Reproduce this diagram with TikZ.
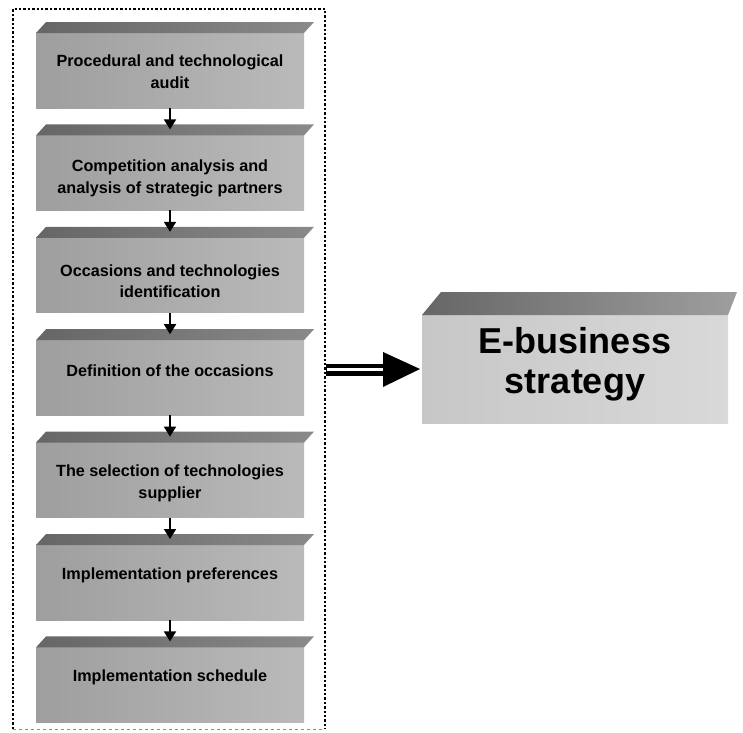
\documentclass[tikz,border=0pt]{standalone}
\usepackage{fontspec}
\setmainfont{Liberation Sans}
\usetikzlibrary{arrows.meta,calc}

\begin{document}
\begin{tikzpicture}[x=1pt,y=-1pt,
  stepface/.style={inner sep=0pt, outer sep=0pt, minimum width=268pt, minimum height=75pt,
    left color=black!38, right color=black!27, draw=none},
  bigface/.style={inner sep=0pt, outer sep=0pt, minimum width=306pt, minimum height=108pt,
    left color=black!22, right color=black!15, draw=none},
  topface/.style={left color=black!60, right color=black!46, draw=none},
  steptext/.style={font=\fontsize{16.2}{21.5}\selectfont\bfseries, align=center, inner sep=0pt},
  bigtext/.style={font=\fontsize{36}{40}\selectfont\bfseries, align=center, inner sep=0pt},
  flow/.style={line width=1.8pt, -{Triangle[width=12pt,length=10pt]}},
  framedot/.style={line width=2.6pt, dash pattern=on 2.4pt off 2pt}
]
\useasboundingbox (0,0) rectangle (743,732);

% front faces of the seven steps (pitch 102.4pt)
\node[stepface] (b1) at (170, 70.5) {};
\node[stepface] (b2) at (170,172.9) {};
\node[stepface] (b3) at (170,275.3) {};
\node[stepface] (b4) at (170,377.7) {};
\node[stepface] (b5) at (170,480.1) {};
\node[stepface] (b6) at (170,582.5) {};
\node[stepface] (b7) at (170,684.9) {};

% bevelled top faces
\foreach \b in {b1,b2,b3,b4,b5,b6,b7}{
  \shade[topface] (\b.north west) -- ++(10,-11) -- ($(\b.north east)+(10,-11)$) -- (\b.north east) -- cycle;
}

% step labels
\node[steptext] (t1) at (170,71.5)  {Procedural and technological\\audit};
\node[steptext] (t2) at (170,178.5) {Competition analysis and\\analysis of strategic partners};
\node[steptext] (t3) at (170,281)   {Occasions and technologies\\identification};
\node[steptext] (t4) at (170,370.5) {Definition of the occasions};
\node[steptext] (t5) at (170,483.5) {The selection of technologies\\supplier};
\node[steptext] (t6) at (170,575.5) {Implementation preferences};
\node[steptext] (t7) at (170,677.5) {Implementation schedule};

% arrows between steps
\draw[flow] (b1.south) -- ([yshift=6pt]b2.north);
\draw[flow] (b2.south) -- ([yshift=6pt]b3.north);
\draw[flow] (b3.south) -- ([yshift=6pt]b4.north);
\draw[flow] (b4.south) -- ([yshift=6pt]b5.north);
\draw[flow] (b5.south) -- ([yshift=6pt]b6.north);
\draw[flow] (b6.south) -- ([yshift=6pt]b7.north);

% dotted frame around the steps
\draw[framedot] (13,729) -- (13,9) -- (325,9) -- (325,729);
\draw[black!45, line width=0.8pt, dash pattern=on 3pt off 3pt] (13,729) -- (325,729);

% result box
\node[bigface] (eb) at (575,369) {};
\shade[left color=black!60, right color=black!38, draw=none]
  (eb.north west) -- ++(19,-23) -- ($(eb.north east)+(9,-23)$) -- (eb.north east) -- cycle;
\node[bigtext] (et) at (575,364) {E-business\\strategy};

% outgoing arrow from the frame
\coordinate (fr) at (326,369.5);
\fill[black] ($(fr)+(0,-6)$) rectangle ($(fr)+(60,6)$);
\draw[white, line width=2.4pt] ($(fr)+(1,0)$) -- ($(fr)+(58,0)$);
\fill[black] ($(fr)+(57,-17.5)$) -- ([xshift=-2pt]eb.west) -- ($(fr)+(57,17.5)$) -- cycle;
\end{tikzpicture}
\end{document}
